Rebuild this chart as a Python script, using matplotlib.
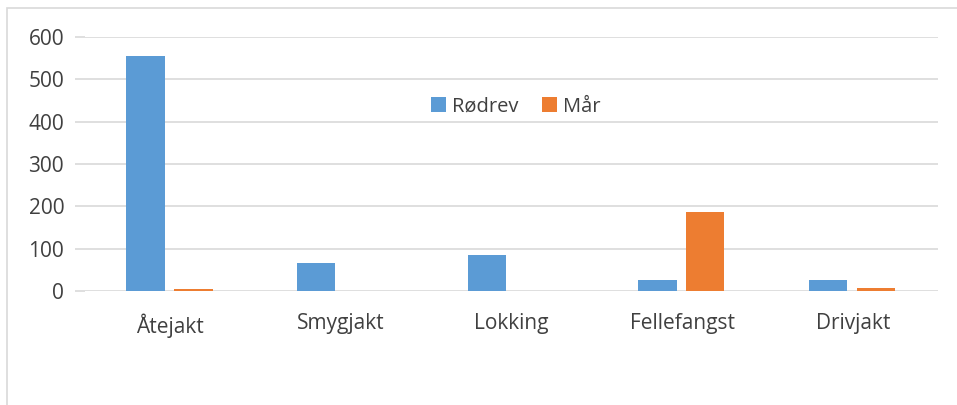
import matplotlib.pyplot as plt
import numpy as np
from matplotlib.patches import Rectangle

categories = ["Åtejakt", "Smygjakt", "Lokking", "Fellefangst", "Drivjakt"]
rodrev = [556, 66, 85, 26, 26]
maar = [5, 0, 1, 187, 6]

plt.rcParams['font.family'] = ['Open Sans', 'DejaVu Sans']

fig = plt.figure(figsize=(9.57, 4.05), dpi=100)
ax = fig.add_axes([85/957, 1 - 291/405, (938-85)/957, (291-37)/405])

x = np.arange(len(categories))
w = 0.225
ax.bar(x - 0.145, rodrev, w, color="#5b9bd5", label="Rødrev", zorder=3)
ax.bar(x + 0.135, maar, w, color="#ed7d31", label="Mår", zorder=3)

ax.set_xlim(-0.5, 4.5)
ax.set_ylim(0, 600)
ax.set_yticks(range(0, 601, 100))
ax.grid(axis="y", color="#d9d9d9", linewidth=1.2, zorder=0)
for s in ax.spines.values():
    s.set_visible(False)
ax.set_xticks(x)
ax.set_xticklabels(categories)
ax.tick_params(axis="x", length=0, pad=16, labelsize=15, colors="#404040")
ax.tick_params(axis="y", length=7, color="#d9d9d9", width=1.2, pad=8,
               labelsize=15, labelcolor="#404040")

ax.legend(loc="center", bbox_to_anchor=(0.505, 0.725), ncol=2, frameon=False,
          fontsize=14.5, handlelength=0.75, handleheight=0.75, columnspacing=1.2,
          handletextpad=0.3, labelcolor="#404040")

fig.patches.append(Rectangle((7/957, -0.1), 1.2, 1 - 8/405 + 0.1,
                             transform=fig.transFigure, fill=False,
                             edgecolor="#d9d9d9", linewidth=1.2))

fig.savefig("out.png", dpi=100)
